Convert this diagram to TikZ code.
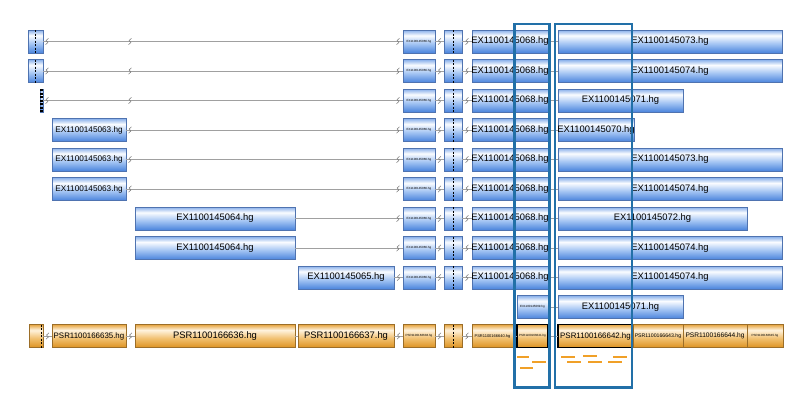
\documentclass[tikz,border=0pt]{standalone}
\usepackage{fontspec}
\setmainfont{Liberation Sans}
\usepackage{tikz}
\usetikzlibrary{decorations.markings}

\definecolor{exline}{HTML}{4F73B0}
\definecolor{extop}{HTML}{86AEEA}
\definecolor{exhi}{HTML}{FAFCFF}
\definecolor{exmid}{HTML}{A3C4F3}
\definecolor{exbot}{HTML}{4A84DC}
\definecolor{psline}{HTML}{9C6E28}
\definecolor{pstop}{HTML}{E6A43F}
\definecolor{pshi}{HTML}{FFF3DE}
\definecolor{psmid}{HTML}{F1C070}
\definecolor{psbot}{HTML}{DD9322}
\definecolor{intronc}{HTML}{A0A0A0}
\definecolor{hilite}{HTML}{2270A8}
\definecolor{probe}{HTML}{F0A028}

\pgfdeclareverticalshading{exshade}{100bp}{color(0bp)=(exbot); color(25bp)=(exbot); color(45bp)=(exmid); color(63bp)=(exhi); color(75bp)=(extop); color(100bp)=(extop)}
\pgfdeclareverticalshading{psshade}{100bp}{color(0bp)=(psbot); color(25bp)=(psbot); color(45bp)=(psmid); color(63bp)=(pshi); color(75bp)=(pstop); color(100bp)=(pstop)}

\newcommand\brkmark{\draw[intronc!80!black, line width=0.6pt, rounded corners=0.6pt] (1.5,-3.2) -- (-1.2,-0.7) -- (1.2,0.7) -- (-1.5,3.2);}
\newcommand\lb[1]{\makebox[0pt]{#1}}

\begin{document}
\begin{tikzpicture}[x=1pt, y=-1pt,
    ex/.style={draw=exline, line width=0.6pt, shading=exshade, minimum height=23pt, inner sep=0pt, outer sep=0pt, font=\fontsize{9.4}{10}\selectfont},
    ps/.style={ex, draw=psline, shading=psshade},
    wee/.style={font=\fontsize{3}{3}\selectfont},
    sel/.style={draw=black, line width=1.5pt},
    intron/.style={draw=intronc, line width=0.6pt},
    brkat/.style={postaction={decorate, decoration={markings, mark=at position #1 with {\brkmark}}}},
    vdash/.style={black, line width=0.9pt, dash pattern=on 2pt off 1.5pt},
    hl/.style={draw=hilite, line width=2.8pt},
    probeline/.style={probe, line width=1.9pt}]

    \useasboundingbox (0,0) rectangle (807,408);

    % transcripts
    \node[ex, minimum width=15pt] (a1) at (35.5,41.5) {};
    \node[ex, minimum width=15pt] (a2) at (35.5,71) {};
    \node[ex, minimum width=3pt] (a3) at (41.5,100.5) {};
    \draw[vdash] (a1.north) -- (a1.south);
    \draw[vdash] (a2.north) -- (a2.south);
    \draw[vdash, line width=2.5pt] (a3.north) -- (a3.south);
    \node[ex, font=\fontsize{8.2}{9}\selectfont, minimum width=74pt] (a4) at (89,130) {\lb{EX1100145063.hg}};
    \node[ex, font=\fontsize{8.2}{9}\selectfont, minimum width=74pt] (a5) at (89,159.5) {\lb{EX1100145063.hg}};
    \node[ex, font=\fontsize{8.2}{9}\selectfont, minimum width=74pt] (a6) at (89,189) {\lb{EX1100145063.hg}};
    \node[ex, minimum width=160pt] (a7) at (215,218.5) {\lb{EX1100145064.hg}};
    \node[ex, minimum width=160pt] (a8) at (215,248) {\lb{EX1100145064.hg}};
    \node[ex, minimum width=96pt] (a9) at (346,277.5) {\lb{EX1100145065.hg}};

    \foreach \y [count=\r] in {41.5,71,100.5,130,159.5,189,218.5,248,277.5} {
        \node[ex, wee, minimum width=32pt] (b\r) at (419,\y) {\lb{EX1100145066.hg}};
        \node[ex, minimum width=18pt] (c\r) at (453,\y) {};
        \draw[vdash] (c\r.north) -- (c\r.south);
        \node[ex, minimum width=76pt] (d\r) at (510,\y) {\lb{EX1100145068.hg}};
    }

    \node[ex, minimum width=224pt] (e1) at (670,41.5) {\lb{EX1100145073.hg}};
    \node[ex, minimum width=224pt] (e2) at (670,71) {\lb{EX1100145074.hg}};
    \node[ex, minimum width=125pt] (e3) at (620.5,100.5) {\lb{EX1100145071.hg}};
    \node[ex, minimum width=76pt] (e4) at (596,130) {\lb{EX1100145070.hg}};
    \node[ex, minimum width=224pt] (e5) at (670,159.5) {\lb{EX1100145073.hg}};
    \node[ex, minimum width=224pt] (e6) at (670,189) {\lb{EX1100145074.hg}};
    \node[ex, minimum width=189pt] (e7) at (652.5,218.5) {\lb{EX1100145072.hg}};
    \node[ex, minimum width=224pt] (e8) at (670,248) {\lb{EX1100145074.hg}};
    \node[ex, minimum width=224pt] (e9) at (670,277.5) {\lb{EX1100145074.hg}};
    \node[ex, wee, minimum width=31pt] (d10) at (532.5,307) {\lb{EX1100145069.hg}};
    \node[ex, minimum width=125pt] (e10) at (620.5,307) {\lb{EX1100145071.hg}};

    \draw[intron, brkat=4pt, brkat=87pt, brkat=-5pt] (a1) -- (b1);
    \draw[intron, brkat=4pt, brkat=87pt, brkat=-5pt] (a2) -- (b2);
    \draw[intron, brkat=4pt, brkat=87pt, brkat=-5pt] (a3) -- (b3);
    \draw[intron, brkat=4pt, brkat=-5pt] (a4) -- (b4);
    \draw[intron, brkat=4pt, brkat=-5pt] (a5) -- (b5);
    \draw[intron, brkat=4pt, brkat=-5pt] (a6) -- (b6);
    \draw[intron, brkat=-5pt] (a7) -- (b7);
    \draw[intron, brkat=-5pt] (a8) -- (b8);
    \draw[intron, brkat=0.5] (a9) -- (b9);
    \foreach \r in {1,...,9} {
        \draw[intron, brkat=0.5] (b\r) -- (c\r);
        \draw[intron, brkat=0.5] (c\r) -- (d\r);
        \draw[intron] (d\r) -- (e\r);
    }
    \draw[intron] (d10) -- (e10);

    % probe set row
    \node[ps, minimum width=14pt] (oa) at (36,336) {};
    \draw[vdash] ([xshift=-2pt]oa.north east) -- ([xshift=-2pt]oa.south east);
    \node[ps, font=\fontsize{7.9}{9}\selectfont, minimum width=74pt] (o635) at (89,336) {\lb{PSR1100166635.hg}};
    \node[ps, minimum width=160pt] (o636) at (215,336) {\lb{PSR1100166636.hg}};
    \node[ps, minimum width=96pt] (o637) at (346,336) {\lb{PSR1100166637.hg}};
    \node[ps, wee, minimum width=32pt] (ob) at (419,336) {\lb{PSR1100166638.hg}};
    \node[ps, minimum width=18pt] (oc) at (453,336) {};
    \draw[vdash] (oc.north) -- (oc.south);
    \node[ps, font=\fontsize{4}{4}\selectfont, minimum width=41pt] (od) at (492.5,336) {\lb{PSR1100166640.hg}};
    \node[ps, sel, wee, minimum width=31pt] (o641) at (532.5,336) {\lb{PSR1100166641.hg}};
    \node[ps, sel, font=\fontsize{7.9}{9}\selectfont, minimum width=75pt] (o642) at (595.5,336) {\lb{PSR1100166642.hg}};
    \node[ps, font=\fontsize{5.2}{6}\selectfont, minimum width=50pt] (o643) at (658,336) {\lb{PSR1100166643.hg}};
    \node[ps, font=\fontsize{6.6}{7}\selectfont, minimum width=64pt] (o644) at (715,336) {\lb{PSR1100166644.hg}};
    \node[ps, wee, minimum width=36pt] (o645) at (765,336) {\lb{PSR1100166645.hg}};

    \draw[intron, brkat=0.5] (oa) -- (o635);
    \draw[intron, brkat=0.5] (o635) -- (o636);
    \draw[intron] (o636) -- (o637);
    \draw[intron, brkat=0.5] (o637) -- (ob);
    \draw[intron, brkat=0.5] (ob) -- (oc);
    \draw[intron, brkat=0.5] (oc) -- (od);
    \draw[intron] (od) -- (o641);
    \draw[intron] (o641) -- (o642);

    % probes
    \draw[probeline] (517,357) -- (529,357);
    \draw[probeline] (532,362) -- (546,362);
    \draw[probeline] (520,368) -- (533,368);
    \draw[probeline] (561,357) -- (575,357);
    \draw[probeline] (583,356) -- (597,356);
    \draw[probeline] (613,357) -- (627,357);
    \draw[probeline] (567,362) -- (581,362);
    \draw[probeline] (588,362) -- (602,362);
    \draw[probeline] (608,362) -- (622,362);

    % highlighted regions
    \draw[hl] (514.5,24) rectangle (549.5,387.5);
    \draw[hl] (555,24) rectangle (632,387.5);
\end{tikzpicture}
\end{document}
